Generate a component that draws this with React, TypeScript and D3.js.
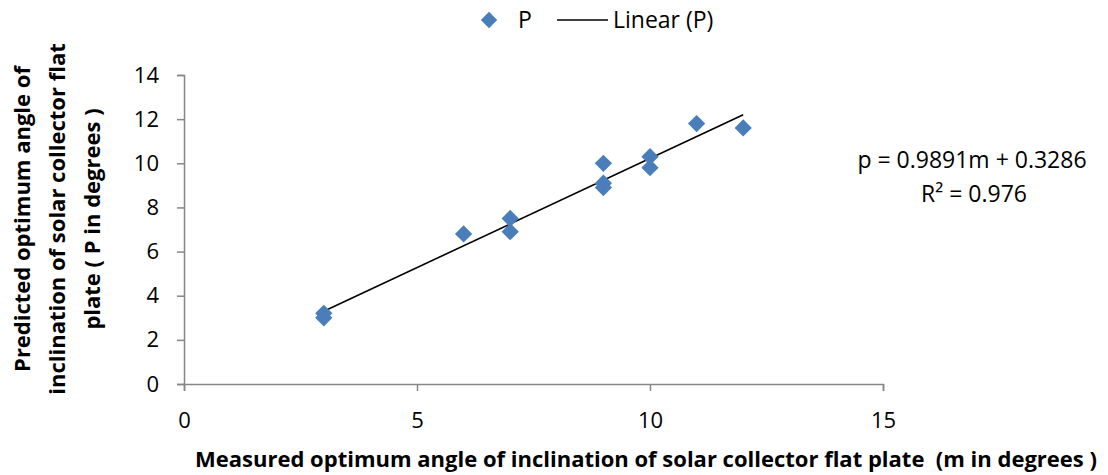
import React, { useEffect, useRef } from "react";
import * as d3 from "d3";

// measured angle m (degrees)
const measured = [3, 3, 6, 7, 7, 9, 9, 9, 10, 10, 11, 12];
// predicted angle P (degrees)
const predicted = [3.2, 3.0, 6.8, 7.5, 6.9, 10.0, 9.1, 8.9, 10.3, 9.8, 11.8, 11.6];
const xTicks = [0, 5, 10, 15];
const yTicks = [0, 2, 4, 6, 8, 10, 12, 14];
const equationText = "p = 0.9891m + 0.3286";
const r2Text = "R² = 0.976";
const yTitleLines = [
  "Predicted optimum angle of",
  "inclination of solar collector flat",
  "plate ( P  in degrees )",
];
const xTitle =
  "Measured optimum angle of inclination of solar collector flat plate  (m in degrees )";

const FONT = "'Open Sans', sans-serif";
const BLUE = "#4a7ebb";
const AXIS = "#868686";

export default function App() {
  const ref = useRef<SVGSVGElement>(null);

  useEffect(() => {
    const svg = d3.select(ref.current);
    svg.selectAll("*").remove();

    const x = d3.scaleLinear().domain([0, 15]).range([184, 883]);
    const y = d3.scaleLinear().domain([0, 14]).range([384, 75]);

    const data = measured.map((m, i) => ({ m, p: predicted[i] }));

    // least squares fit
    const mx = d3.mean(data, (d) => d.m)!;
    const my = d3.mean(data, (d) => d.p)!;
    const sxy = d3.sum(data, (d) => (d.m - mx) * (d.p - my));
    const sxx = d3.sum(data, (d) => (d.m - mx) ** 2);
    const slope = sxy / sxx;
    const icpt = my - slope * mx;
    const [xmin, xmax] = d3.extent(measured) as [number, number];

    // axes
    const xAxis = svg
      .append("g")
      .attr("transform", `translate(0,${y(0)})`)
      .call(d3.axisBottom(x).tickValues(xTicks).tickSizeOuter(0).tickSize(7).tickPadding(21));
    const yAxis = svg
      .append("g")
      .attr("transform", `translate(${x(0)},0)`)
      .call(d3.axisLeft(y).tickValues(yTicks).tickSizeOuter(0).tickSize(7).tickPadding(18));

    [xAxis, yAxis].forEach((g) => {
      g.selectAll("path, line").attr("stroke", AXIS).attr("stroke-width", 1.5);
      g.selectAll("text")
        .attr("font-family", FONT)
        .attr("font-size", 22)
        .attr("fill", "#000");
    });

    // trendline
    const line = d3
      .line<number>()
      .x((d) => x(d))
      .y((d) => y(slope * d + icpt));
    svg
      .append("path")
      .attr("d", line([xmin, xmax]))
      .attr("fill", "none")
      .attr("stroke", "#000")
      .attr("stroke-width", 1.6);

    // points
    const diamond = d3.symbol().type(d3.symbolDiamond2).size(190);
    svg
      .append("g")
      .selectAll("path")
      .data(data)
      .join("path")
      .attr("d", diamond)
      .attr("transform", (d) => `translate(${x(d.m)},${y(d.p)})`)
      .attr("fill", BLUE);

    // equation
    const eq = svg
      .append("g")
      .attr("font-family", FONT)
      .attr("font-size", 23)
      .attr("text-anchor", "middle");
    eq.append("text").attr("x", 972).attr("y", 168).text(equationText);
    eq.append("text").attr("x", 974).attr("y", 202).text(r2Text);

    // legend
    const lg = svg.append("g").attr("font-family", FONT).attr("font-size", 23);
    lg.append("path")
      .attr("d", d3.symbol().type(d3.symbolDiamond2).size(170)())
      .attr("transform", "translate(489,20)")
      .attr("fill", BLUE);
    lg.append("text").attr("x", 518).attr("y", 28).text("P");
    lg.append("line")
      .attr("x1", 557)
      .attr("x2", 608)
      .attr("y1", 20)
      .attr("y2", 20)
      .attr("stroke", "#000")
      .attr("stroke-width", 1.5);
    lg.append("text").attr("x", 613).attr("y", 28).text("Linear (P)");

    // x title
    svg
      .append("text")
      .attr("x", 646)
      .attr("y", 467)
      .attr("text-anchor", "middle")
      .attr("font-family", FONT)
      .attr("font-weight", "bold")
      .attr("font-size", 22)
      .style("white-space", "pre")
      .text(xTitle);

    // y title
    const yt = svg
      .append("g")
      .attr("transform", "translate(0,219) rotate(-90)")
      .attr("font-family", FONT)
      .attr("font-weight", "bold")
      .attr("font-size", 22)
      .attr("text-anchor", "middle")
      .style("white-space", "pre");
    yTitleLines.forEach((t, i) => {
      yt.append("text").attr("x", 0).attr("y", 30 + i * 35).text(t);
    });
  }, []);

  return (
    <svg
      ref={ref}
      width={1108}
      height={475}
      style={{ position: "absolute", left: 0, top: 0, background: "#fff" }}
    />
  );
}
